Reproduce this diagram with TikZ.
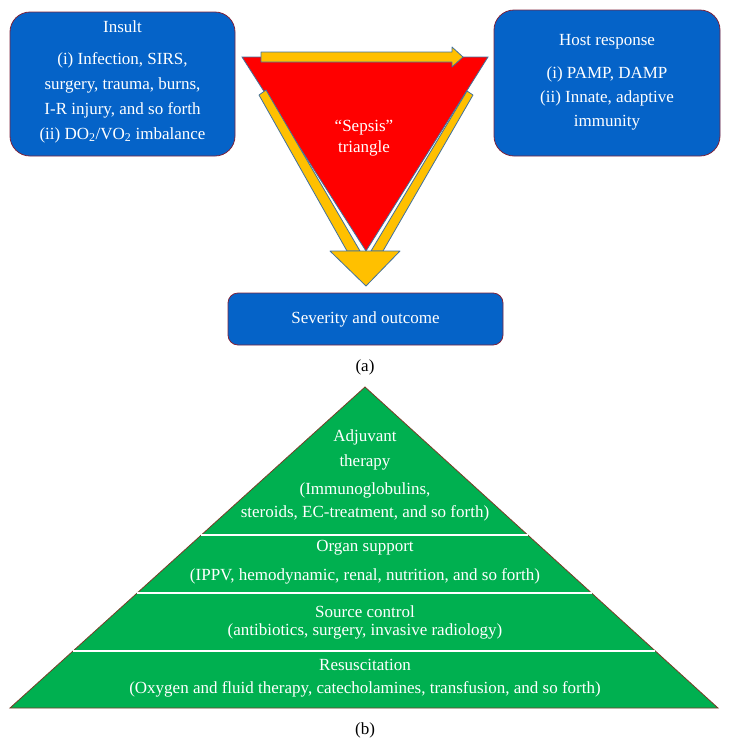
\documentclass[tikz,border=0pt]{standalone}
\usepackage{fontspec}
\setmainfont{Liberation Serif}
\usetikzlibrary{calc}
\definecolor{boxblue}{RGB}{5,99,200}
\definecolor{boxedge}{RGB}{125,35,60}
\definecolor{sepsisred}{RGB}{255,0,0}
\definecolor{shapeedge}{RGB}{65,113,156}
\definecolor{arrowyellow}{RGB}{255,192,0}
\definecolor{pyrgreen}{RGB}{0,176,80}
\definecolor{pyredge}{RGB}{120,60,40}
\tikzset{
    panel/.style={draw=boxedge,line width=0.8pt,fill=boxblue,rounded corners=20pt,
        text=white,align=center,font=\fontsize{17}{25}\selectfont},
    yarrow/.style={draw=shapeedge,line width=0.8pt,fill=arrowyellow,line join=round},
    tier/.style={text=white,font=\fontsize{17}{20}\selectfont},
    caption/.style={font=\fontsize{17}{20}\selectfont}
}
\begin{document}
\begin{tikzpicture}[x=1pt,y=-1pt]
    \useasboundingbox (0,0) rectangle (729,748);
    % (a)
    \node[panel,minimum width=225pt,minimum height=144pt] (insult) at (122.5,84)
        {Insult\\[7pt](i) Infection, SIRS,\\surgery, trauma, burns,\\I-R injury, and so forth\\(ii) DO\textsubscript{2}/VO\textsubscript{2} imbalance\\[-17pt]};
    \node[panel,minimum width=226pt,minimum height=146pt,font=\fontsize{17}{24}\selectfont] (host) at (607,83)
        {Host response\\[9pt](i) PAMP, DAMP\\(ii) Innate, adaptive\\immunity\\[-19pt]};
    \node[panel,minimum width=275pt,minimum height=52pt,rounded corners=10pt] (severity) at (365.5,319)
        {Severity and outcome};
    \coordinate (tl) at (242,57);
    \coordinate (tr) at (488,57);
    \coordinate (tb) at (366,251);
    \draw[draw=shapeedge,line width=0.8pt,fill=sepsisred] (tl) -- (tr) -- (tb) -- cycle;
    \draw[yarrow] (261,52) -- (452,52) -- (452,47) -- (463,57) -- (452,67) -- (452,62) -- (261,62) -- cycle;
    \draw[yarrow] (259,95) -- (266,90) -- (360,251) -- (347,251) -- cycle;
    \draw[yarrow] (467,91) -- (473,95) -- (383,251) -- (371,251) -- cycle;
    \draw[yarrow] (330,251) -- (400,251) -- (366,286) -- cycle;
    \node[tier,align=center,font=\fontsize{17}{21}\selectfont] (sepsis) at (364,138) {“Sepsis”\\triangle};
    \node[caption] (capa) at (365,367) {(a)};
    % (b)
    \coordinate (apex) at (365,387);
    \coordinate (bl) at (10,708);
    \coordinate (br) at (718,708);
    \draw[draw=pyredge,line width=0.8pt,fill=pyrgreen] (apex) -- (br) -- (bl) -- cycle;
    \foreach \t in {0.461,0.6417,0.8224}
        \draw[white,line width=1.2pt] ($(apex)!\t!(bl)$) -- ($(apex)!\t!(br)$);
    \node[tier] (adj1) at (365,437) {Adjuvant};
    \node[tier] (adj2) at (365,462) {therapy};
    \node[tier] (adj3) at (365,490) {(Immunoglobulins,};
    \node[tier] (adj4) at (365,513) {steroids, EC-treatment, and so forth)};
    \node[tier] (organ1) at (365,548) {Organ support};
    \node[tier] (organ2) at (365,576) {(IPPV, hemodynamic, renal, nutrition, and so forth)};
    \node[tier] (source1) at (365,612) {Source control};
    \node[tier] (source2) at (365,631) {(antibiotics, surgery, invasive radiology)};
    \node[tier] (resus1) at (365,665) {Resuscitation};
    \node[tier] (resus2) at (365,689) {(Oxygen and fluid therapy, catecholamines, transfusion, and so forth)};
    \node[caption] (capb) at (365,730) {(b)};
\end{tikzpicture}
\end{document}
